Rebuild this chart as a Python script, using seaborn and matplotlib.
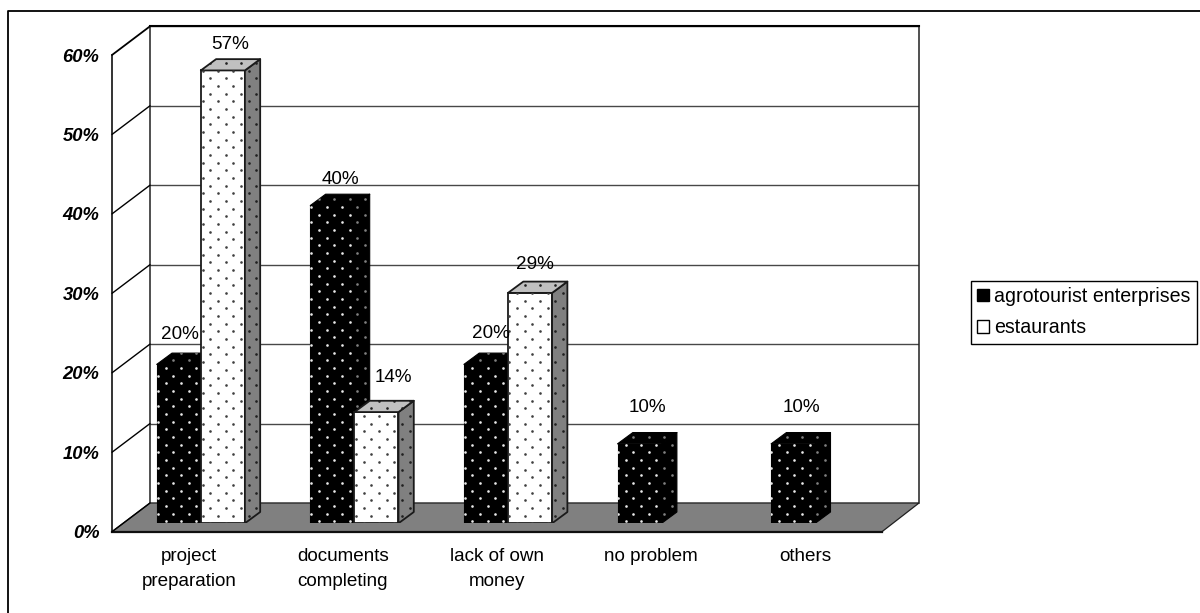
import numpy as np
import pandas as pd
import matplotlib
matplotlib.use("Agg")
import matplotlib.pyplot as plt
from matplotlib.lines import Line2D
from matplotlib.patches import Patch, Polygon
from matplotlib.transforms import IdentityTransform
import seaborn as sns

categories = ["project\npreparation", "documents\ncompleting", "lack of own\nmoney", "no problem", "others"]
agrotourist = [20, 40, 20, 10, 10]
restaurants = [57, 14, 29, np.nan, np.nan]
series_names = ["agrotourist enterprises", "estaurants"]
y_ticks = [0, 10, 20, 30, 40, 50, 60]

# hand placement of the value labels, pixels from the front face's top centre
label_nudges = [
    [(1, -30), (8, -26), (5, -31), (8, -36), (8, -36)],
    [(7, -26), (17, -35), (5, -28)],
]

W, H = 1200, 613
DEPTH = (15.3, 11.3)
PX_PER_PCT = 7.945

sns.set_theme(style="white")
plt.rcParams["font.family"] = ["Liberation Sans", "DejaVu Sans"]
plt.rcParams["text.color"] = "black"
plt.rcParams["xtick.labelcolor"] = "black"
plt.rcParams["ytick.labelcolor"] = "black"

fig = plt.figure(figsize=(W / 100, H / 100), dpi=100, facecolor="white")


def pixel_axes(left, right, base):
    """Axes spanning 0-60 % whose frame is given in image pixels."""
    top = base - 60 * PX_PER_PCT
    a = fig.add_axes([left / W, 1 - base / H, (right - left) / W, (base - top) / H])
    a.set_xlim(-0.5, 4.5)
    a.set_ylim(0, 60)
    a.patch.set_alpha(0)
    return a


# back wall with its gridlines
wall = pixel_axes(150, 919, 503)
wall.set_zorder(1)
wall.set_xticks([])
wall.set_yticks(y_ticks)
wall.tick_params(left=False, labelleft=False)
wall.grid(axis="y", color="#484848", lw=1.0)
for name, spine in wall.spines.items():
    spine.set_visible(name != "bottom")
    spine.set_color("#202020")
    spine.set_linewidth(1.1)
wall.spines["top"].set_linewidth(1.5)
wall.spines["top"].set_color("black")

# front frame carrying the real tick marks and labels
front = pixel_axes(112, 882, 531.7)
front.set_zorder(2)
for name, spine in front.spines.items():
    spine.set_visible(name in ("left", "bottom"))
    spine.set_color("#101010")
    spine.set_linewidth(1.2)
front.spines["bottom"].set_linewidth(1.6)
front.set_yticks(y_ticks)
front.set_yticklabels([f"{v}%" for v in y_ticks], fontsize=13.2, fontweight="bold", fontstyle="italic")
front.set_xticks(np.arange(-0.5, 5))
front.set_xticklabels([])
front.set_xticks(np.arange(5), categories, minor=True, fontsize=13.6, linespacing=1.62)
front.tick_params(axis="y", length=6, width=1, color="black", pad=3)
front.tick_params(axis="x", which="major", length=6, width=1, color="black")
front.tick_params(axis="x", which="minor", length=0, pad=12)

# floor between the front edge and the wall
floor_pts = [
    front.transData.transform((-0.5, 0)),
    wall.transData.transform((-0.5, 0)),
    wall.transData.transform((4.5, 0)),
    front.transData.transform((4.5, 0)),
]
fig.add_artist(Polygon(floor_pts, closed=True, transform=IdentityTransform(), fc="#808080", ec="#202020", lw=0.9, zorder=2))

# side wall: each tick joins its gridline
for v in y_ticks:
    p0 = front.transData.transform((-0.5, v))
    p1 = wall.transData.transform((-0.5, v))
    lw = 1.3 if v == 60 else 1.0
    fig.add_artist(Line2D([p0[0], p1[0]], [p0[1], p1[1]], transform=IdentityTransform(), color="black", lw=lw, zorder=2.5))

# bars
bars = pixel_axes(124, 892, 523.3)
bars.set_zorder(3)
bars.axis("off")

table = pd.DataFrame({
    "category": categories * 2,
    "value": agrotourist + restaurants,
    "series": [series_names[0]] * 5 + [series_names[1]] * 5,
})
sns.barplot(
    data=table, x="category", y="value", hue="series", hue_order=series_names,
    palette=["black", "white"], width=0.574, gap=0, dodge=True, legend=False,
    errorbar=None, ax=bars,
)
bars.set_xlim(-0.5, 4.5)
bars.set_ylim(0, 60)


def dotted(poly, color, phase, z):
    """Clip a staggered dot screen to a polygon given in display pixels."""
    xs, ys = poly[:, 0], H - poly[:, 1]
    rows = np.arange(np.floor((ys.min() - phase[1]) / 7.67), np.ceil((ys.max() - phase[1]) / 7.67) + 1)
    gx, gy = [], []
    for r in rows.astype(int):
        off = phase[0] + (7.67 if r % 2 else 0)
        cols = np.arange(np.floor((xs.min() - off) / 15.33), np.ceil((xs.max() - off) / 15.33) + 1)
        gx.extend(off + cols * 15.33)
        gy.extend([phase[1] + r * 7.67] * len(cols))
    gy = H - np.array(gy)
    sc = bars.scatter(gx, gy, s=3.6, c=color, linewidths=0, transform=IdentityTransform(), zorder=z, clip_on=True)
    sc.set_clip_path(Polygon(poly, closed=True, transform=IdentityTransform()))
    bars.set_xlim(-0.5, 4.5)
    bars.set_ylim(0, 60)


styles = [
    dict(face="black", side="black", top="black", edge="black", lw=0.8,
         fdot="#e8e8e8", sdot="#808080", tdot="#808080", phase=(173.3, 483.0)),
    dict(face="white", side="#808080", top="#c0c0c0", edge="#1a1a1a", lw=1.3,
         fdot="#404040", sdot="#202020", tdot="#202020", phase=(202.7, 70.7)),
]

dx, dy = DEPTH
for s_idx, container in enumerate(bars.containers):
    st = styles[s_idx]
    drawn = 0
    for c_idx, rect in enumerate(container.patches):
        height = rect.get_height()
        if not np.isfinite(height) or height == 0:
            continue
        z = 10 + 2 * c_idx + s_idx
        x0, y0 = bars.transData.transform((rect.get_x(), 0))
        x1, y1 = bars.transData.transform((rect.get_x() + rect.get_width(), height))

        front_pts = np.array([[x0, y0], [x1, y0], [x1, y1], [x0, y1]])
        side_pts = np.array([[x1, y0], [x1 + dx, y0 + dy], [x1 + dx, y1 + dy], [x1, y1]])
        top_pts = np.array([[x0, y1], [x1, y1], [x1 + dx, y1 + dy], [x0 + dx, y1 + dy]])

        rect.set_facecolor(st["face"])
        rect.set_edgecolor(st["edge"])
        rect.set_linewidth(st["lw"])
        rect.set_zorder(z)
        for pts, col in ((side_pts, st["side"]), (top_pts, st["top"])):
            bars.add_patch(Polygon(pts, closed=True, transform=IdentityTransform(), fc=col,
                                   ec=st["edge"], lw=st["lw"], zorder=z, joinstyle="round"))
        dotted(front_pts, st["fdot"], st["phase"], z + 0.5)
        dotted(side_pts, st["sdot"], st["phase"], z + 0.5)
        dotted(top_pts, st["tdot"], st["phase"], z + 0.5)

        nudge = label_nudges[s_idx][drawn]
        drawn += 1
        bars.annotate(f"{height:.0f}%", xy=(x0 / 2 + x1 / 2, y1), xycoords=IdentityTransform(),
                      xytext=(nudge[0] * 0.72, -nudge[1] * 0.72), textcoords="offset points",
                      ha="center", va="center", fontsize=13.6, zorder=40)

# legend, built from the same colours as the bars
handles = [Patch(fc="black", ec="black"), Patch(fc="white", ec="black")]
fig.legend(handles, series_names, loc="upper left", bbox_to_anchor=(970.5 / W, 1 - 280.5 / H),
           bbox_transform=fig.transFigure, frameon=True, fancybox=False, framealpha=1,
           edgecolor="black", fontsize=14.1, handlelength=0.62, handleheight=0.62,
           handletextpad=0.25, borderaxespad=0, borderpad=0.33, labelspacing=0.62)

# outer frame: only its top and left edges reach into the canvas
fig.add_artist(Line2D([7.5, 7.5, W], [0, H - 10.5, H - 10.5], transform=IdentityTransform(),
                      color="black", lw=1.3, zorder=50))

fig.savefig("out.png", dpi=100)
